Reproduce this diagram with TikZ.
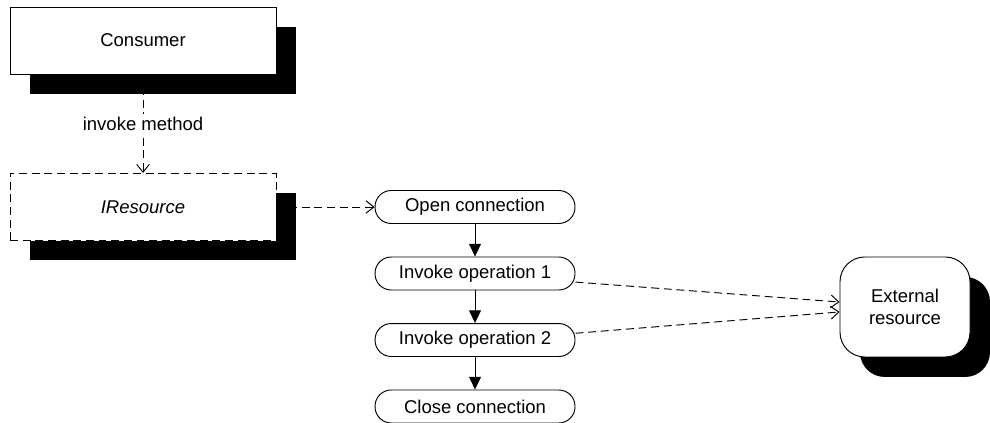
\documentclass[tikz,border=0pt]{standalone}
\usepackage{fontspec}
\setmainfont{Liberation Sans}
\usetikzlibrary{positioning,arrows.meta,shadows}

\begin{document}
\begin{tikzpicture}[
  font=\fontsize{11.7}{14}\selectfont,
  line width=0.6pt,
  shade/.style    = {drop shadow={shadow xshift=0.444cm, shadow yshift=-0.444cm, opacity=1, fill=black}},
  comp/.style     = {rectangle, draw, fill=white, shade, minimum width=5.911cm, minimum height=1.489cm},
  iface/.style    = {comp, dashed, dash pattern=on 5pt off 3pt, font=\fontsize{11.7}{14}\selectfont\itshape},
  stepnode/.style = {rectangle, draw, fill=white, rounded corners=0.36cm, minimum width=4.444cm, minimum height=0.733cm, inner sep=1pt},
  extnode/.style  = {rectangle, draw, fill=white, shade, rounded corners=0.55cm, minimum width=2.889cm, minimum height=2.222cm, align=center},
  flow/.style     = {-{Triangle[length=8pt,width=7.5pt]}},
  call/.style     = {dash pattern=on 5pt off 3pt, -{Straight Barb[length=5pt,width=8pt]}}
]
\useasboundingbox (0,0) rectangle (22,-9.378);

% Consumer and interface
\node[comp]  (consumer) at (3.178, -0.9) {Consumer};
\node[iface] (iresource) at (3.178, -4.6) {IResource};

% Steps
\node[stepnode] (open)  at (10.556, -4.6)   {Open connection};
\node[stepnode] (op1)   at (10.556, -6.078) {Invoke operation 1};
\node[stepnode] (op2)   at (10.556, -7.556) {Invoke operation 2};
\node[stepnode] (close) at (10.556, -9.033) {Close connection};

% External side
\node[extnode] (ext) at (20.111, -6.822) {External\\resource};

% Connectors
\draw[call] (consumer) -- node[fill=white, inner sep=2pt] {invoke method} (iresource);
\draw[call] (iresource.east) -- (open.west);
\draw[flow] (open) -- (op1);
\draw[flow] (op1) -- (op2);
\draw[flow] (op2) -- (close);
\draw[call] ([yshift=-0.19cm]op1.east) -- ([yshift=0.11cm]ext.west);
\draw[call] ([yshift=0.15cm]op2.east) -- ([yshift=-0.11cm]ext.west);
\end{tikzpicture}
\end{document}
